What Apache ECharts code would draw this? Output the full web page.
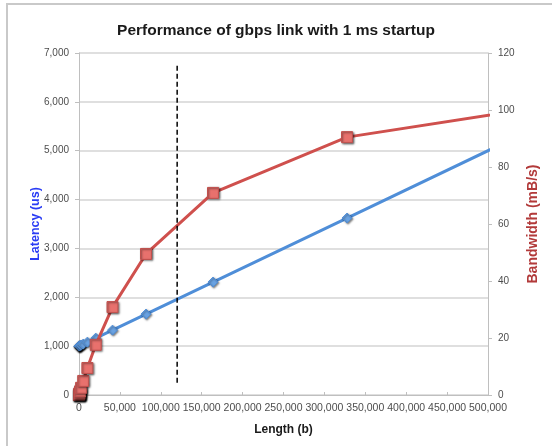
<!DOCTYPE html>
<html>
<head>
<meta charset="utf-8">
<script src="https://cdn.jsdelivr.net/npm/echarts@6/dist/echarts.min.js"></script>
<style>
  html, body { margin: 0; padding: 0; background: #fff; }
  #chart { width: 552px; height: 446px; }
</style>
</head>
<body>
<div id="chart"></div>
<script>
// Message length in bytes (doubling sizes)
const lengths = [10, 20, 40, 80, 160, 320, 640, 1280, 2560, 5120, 10240, 20480, 40960, 81920, 163840, 327680, 655360];
// Latency in microseconds
const latency = [1000.1, 1000.2, 1000.3, 1000.6, 1001.3, 1002.6, 1005.1, 1010.2, 1020.5, 1041.0, 1081.9, 1163.8, 1327.7, 1655.4, 2310.7, 3621.4, 6242.9];
// Effective bandwidth in mB/s
const bandwidth = [0.01, 0.02, 0.04, 0.08, 0.16, 0.32, 0.64, 1.27, 2.51, 4.92, 9.47, 17.6, 30.85, 49.49, 70.9, 90.48, 104.98];
// Vertical reference marker (length, latency span)
const markerLength = 120000;
const markerSpan = [250, 6750];

const leftTicks = { min: 0, max: 7000, interval: 1000 };
const rightTicks = { min: 0, max: 120, interval: 20 };
const xTicks = { min: 0, max: 500000, interval: 50000 };

const fmt = v => v.toLocaleString('en-US');
const font = 'Liberation Sans, Arial, sans-serif';

const chart = echarts.init(document.getElementById('chart'), null, { renderer: 'canvas' });

const shadow = { shadowColor: 'rgba(0,0,0,0.5)', shadowBlur: 2, shadowOffsetX: 1, shadowOffsetY: 1 };

chart.setOption({
  animation: false,
  backgroundColor: '#fff',
  graphic: [{
    type: 'rect',
    shape: { x: 7, y: 4, width: 560, height: 460 },
    style: { fill: 'none', stroke: '#c9c9c9', lineWidth: 2 },
    silent: true
  }],
  title: {
    text: 'Performance of gbps link with 1 ms startup',
    left: 'center',
    top: 18,
    textStyle: { fontFamily: font, fontWeight: 'bold', fontSize: 15.5, color: '#1a1a1a' }
  },
  grid: { left: 79, right: 64, top: 53, bottom: 51 },
  xAxis: {
    type: 'value',
    min: xTicks.min, max: xTicks.max, interval: xTicks.interval,
    name: 'Length (b)',
    nameLocation: 'middle',
    nameGap: 29,
    nameMoveOverlap: false,
    nameTextStyle: { fontFamily: font, fontWeight: 'bold', fontSize: 12, color: '#1a1a1a' },
    axisLine: { show: true, lineStyle: { color: '#bfbfbf', width: 1 } },
    axisTick: { show: true, inside: true, length: 3, lineStyle: { color: '#bfbfbf' } },
    axisLabel: { fontFamily: font, fontSize: 10.5, color: '#4d4d4d', margin: 8, formatter: fmt },
    splitLine: { show: false }
  },
  yAxis: [{
    type: 'value',
    min: leftTicks.min, max: leftTicks.max, interval: leftTicks.interval,
    name: 'Latency (us)',
    nameLocation: 'middle',
    nameGap: 37,
    nameRotate: 90,
    nameMoveOverlap: false,
    nameTextStyle: { fontFamily: font, fontWeight: 'bold', fontSize: 12.5, color: '#2a3cf5' },
    axisLine: { show: true, lineStyle: { color: '#bfbfbf', width: 1 } },
    axisTick: { show: true, length: 4, lineStyle: { color: '#bfbfbf' } },
    axisLabel: { fontFamily: font, fontSize: 10, color: '#4d4d4d', margin: 10, formatter: fmt },
    splitLine: { show: true, lineStyle: { color: '#d4d4d4', width: 1.5 } }
  }, {
    type: 'value',
    position: 'right',
    min: rightTicks.min, max: rightTicks.max, interval: rightTicks.interval,
    name: 'Bandwidth (mB/s)',
    nameLocation: 'middle',
    nameGap: 38,
    nameRotate: 90,
    nameMoveOverlap: false,
    nameTextStyle: { fontFamily: font, fontWeight: 'bold', fontSize: 14, color: '#b23a3a' },
    axisLine: { show: true, lineStyle: { color: '#bfbfbf', width: 1 } },
    axisTick: { show: true, length: 4, lineStyle: { color: '#bfbfbf' } },
    axisLabel: { fontFamily: font, fontSize: 10, color: '#4d4d4d', margin: 10 },
    splitLine: { show: false }
  }],
  series: [{
    name: 'Latency',
    type: 'line',
    yAxisIndex: 0,
    data: lengths.map((x, i) => [x, latency[i]]),
    symbol: 'diamond',
    symbolSize: 10,
    lineStyle: { color: '#4f8ed8', width: 3 },
    itemStyle: Object.assign({ color: '#6aa3e3', borderColor: '#4f8ed8', borderWidth: 1 }, shadow),
    clip: true,
    z: 3
  }, {
    name: 'Bandwidth',
    type: 'line',
    yAxisIndex: 1,
    data: lengths.map((x, i) => [x, bandwidth[i]]),
    symbol: 'rect',
    symbolSize: 11,
    lineStyle: { color: '#cf504d', width: 3 },
    itemStyle: Object.assign({ color: '#e8716d', borderColor: '#c0504d', borderWidth: 1 }, shadow),
    clip: true,
    z: 4
  }, {
    name: 'Marker',
    type: 'line',
    yAxisIndex: 0,
    data: markerSpan.map(v => [markerLength, v]),
    symbol: 'none',
    lineStyle: { color: '#000', width: 1.5, type: [5, 3] },
    z: 5
  }]
});
</script>
</body>
</html>
